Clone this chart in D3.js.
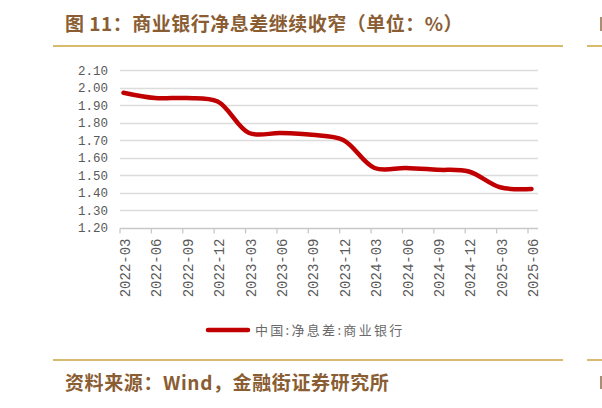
<!DOCTYPE html>
<html>
<head>
<meta charset="utf-8">
<script src="https://cdn.jsdelivr.net/npm/d3@7"></script>
<style>
  html, body { margin: 0; padding: 0; background: #fff; }
  svg { display: block; }
</style>
</head>
<body>
<svg id="chart" width="602" height="408"></svg>
<script>
const categories = ["2022-03","2022-06","2022-09","2022-12","2023-03","2023-06","2023-09","2023-12","2024-03","2024-06","2024-09","2024-12","2025-03","2025-06"];
const nimValues = [1.97, 1.94, 1.94, 1.92, 1.74, 1.74, 1.73, 1.70, 1.54, 1.54, 1.53, 1.52, 1.43, 1.42];
const yTickValues = [1.2, 1.3, 1.4, 1.5, 1.6, 1.7, 1.8, 1.9, 2.0, 2.1];
const seriesName = "中国:净息差:商业银行";
const titleText = "图 11：商业银行净息差继续收窄（单位：%）";
const sourceText = "资料来源：Wind，金融街证券研究所";

const svg = d3.select("#chart");
const brown = "#8A5D33";
const gold = "#D8BB6D";
const axisGray = "#595959";

// header
svg.append("text").attr("x", 65).attr("y", 31)
  .attr("font-family", "'Noto Sans CJK SC', sans-serif").attr("font-weight", "bold")
  .attr("font-size", 19).attr("letter-spacing", 0.5).attr("fill", brown).text(titleText);
// fragment of the next panel's header at the right edge
svg.append("rect").attr("x", 600).attr("y", 17).attr("width", 2).attr("height", 14).attr("fill", brown).attr("opacity", 0.7);
svg.append("line").attr("x1", 53).attr("x2", 563).attr("y1", 46).attr("y2", 46)
  .attr("stroke", gold).attr("stroke-width", 2);
svg.append("line").attr("x1", 587).attr("x2", 602).attr("y1", 46).attr("y2", 46)
  .attr("stroke", gold).attr("stroke-width", 2);

// footer
svg.append("line").attr("x1", 53).attr("x2", 563).attr("y1", 360).attr("y2", 360)
  .attr("stroke", gold).attr("stroke-width", 2);
svg.append("line").attr("x1", 587).attr("x2", 602).attr("y1", 360).attr("y2", 360)
  .attr("stroke", gold).attr("stroke-width", 2);
svg.append("text").attr("x", 65).attr("y", 390)
  .attr("font-family", "'Noto Sans CJK SC', sans-serif").attr("font-weight", "bold")
  .attr("font-size", 19).attr("letter-spacing", 0.6).attr("fill", brown).text(sourceText);
svg.append("rect").attr("x", 600).attr("y", 376).attr("width", 2).attr("height", 13).attr("fill", brown).attr("opacity", 0.7);

// scales
const x = d3.scalePoint().domain(categories).range([123.5, 531.5]);
const y = d3.scaleLinear().domain([1.2, 2.1]).range([227.5, 70]);
const plotLeft = 120, plotRight = 538;
const tickShift = -3.5;

// gridlines
svg.append("g").selectAll("line").data(yTickValues.slice(1)).join("line")
  .attr("x1", plotLeft).attr("x2", plotRight)
  .attr("y1", d => Math.round(y(d)) + 0.5).attr("y2", d => Math.round(y(d)) + 0.5)
  .attr("stroke", "#DCDCDC").attr("stroke-width", 1.3);

// y labels
svg.append("g").selectAll("text").data(yTickValues).join("text")
  .attr("x", 108).attr("y", d => y(d)).attr("dy", "0.36em")
  .attr("text-anchor", "end")
  .attr("font-family", "'Liberation Mono', monospace").attr("font-size", 12.5)
  .attr("fill", axisGray).text(d => d.toFixed(2));

// x axis line and ticks
const yBase = Math.round(y(1.2)) + 0.5;
svg.append("line").attr("x1", plotLeft).attr("x2", plotRight).attr("y1", yBase).attr("y2", yBase)
  .attr("stroke", "#C8C8C8").attr("stroke-width", 1.3);
svg.append("g").selectAll("line").data(categories).join("line")
  .attr("x1", d => x(d) + tickShift).attr("x2", d => x(d) + tickShift)
  .attr("y1", yBase).attr("y2", yBase + 5)
  .attr("stroke", "#C8C8C8").attr("stroke-width", 1.3);

// x labels (rotated)
svg.append("g").selectAll("text").data(categories).join("text")
  .attr("transform", d => `translate(${x(d) + 1.5},${yBase + 10}) rotate(-90)`)
  .attr("dy", "0.36em").attr("text-anchor", "end")
  .attr("font-family", "'Liberation Mono', monospace").attr("font-size", 14)
  .attr("fill", axisGray).text(d => d);

// line
const lineGen = d3.line()
  .x((d, i) => x(categories[i]))
  .y(d => y(d))
  .curve(d3.curveCatmullRom.alpha(0.5));
svg.append("path").datum(nimValues).attr("d", lineGen)
  .attr("fill", "none").attr("stroke", "#C00000").attr("stroke-width", 4.5)
  .attr("stroke-linecap", "round").attr("stroke-linejoin", "round");

// legend
svg.append("line").attr("x1", 208).attr("x2", 248).attr("y1", 330).attr("y2", 330)
  .attr("stroke", "#C00000").attr("stroke-width", 4.5).attr("stroke-linecap", "round");
svg.append("text").attr("x", 255).attr("y", 330).attr("dy", "0.36em")
  .attr("font-family", "'Noto Sans CJK SC', sans-serif").attr("font-size", 13)
  .attr("letter-spacing", 2.3).attr("fill", "#6a6a6a").text(seriesName);
</script>
</body>
</html>
